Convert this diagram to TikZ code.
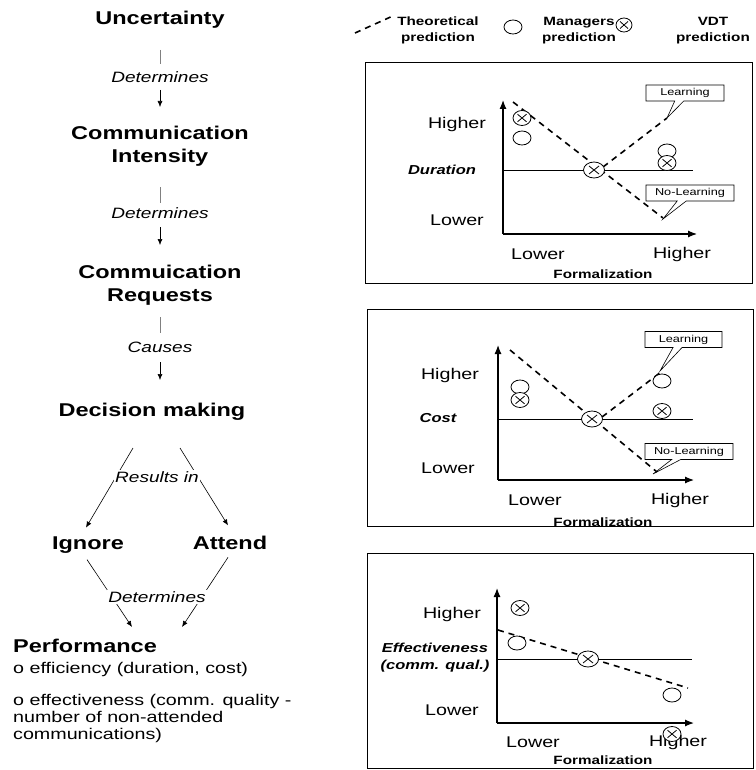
\documentclass[tikz,border=0pt]{standalone}
\usepackage{fontspec}
\setmainfont{Liberation Sans}[FakeStretch=1.27]
\usetikzlibrary{arrows.meta,calc,shapes.callouts}
\begin{document}
\begin{tikzpicture}[x=1pt,y=-1pt,
  big/.style={font=\fontsize{18.5}{23}\selectfont\bfseries, align=center, inner sep=0pt},
  verb/.style={font=\fontsize{15}{18}\selectfont\itshape, inner sep=1pt, fill=white},
  body/.style={font=\fontsize{15.5}{16.8}\selectfont, align=left, inner sep=0pt},
  link/.style={draw=gray, line width=0.5pt},
  arr/.style={line width=0.6pt, -{Latex[length=6pt,width=5pt]}},
  axl/.style={font=\fontsize{15.5}{18}\selectfont, inner sep=0pt},
  ttl/.style={font=\fontsize{13}{17}\selectfont\bfseries\itshape, align=center, inner sep=0pt},
  fml/.style={font=\fontsize{12}{14}\selectfont\bfseries, inner sep=0pt},
  leg/.style={font=\fontsize{12}{16}\selectfont\bfseries, align=center, inner sep=0pt, anchor=base},
  theo/.style={line width=1.6pt, dash pattern=on 6pt off 5pt},
  axis/.style={line width=1.2pt, -{Latex[length=9pt,width=7pt]}},
  panel/.style={line width=0.9pt},
  call/.style={rectangle callout, draw, fill=white, line width=0.6pt,
    font=\fontsize{10}{12}\selectfont, minimum height=16pt, inner sep=2pt,
    callout pointer width=9pt},
  vdt/.pic={\draw[fill=white, line width=0.8pt] (0,0) ellipse (9 and 7.5);
            \draw[line width=0.8pt] (-4.5,-3.8) -- (4.5,3.8) (-4.5,3.8) -- (4.5,-3.8);},
  vdtsm/.pic={\draw[fill=white, line width=0.8pt] (0,0) ellipse (8 and 7);
            \draw[line width=0.8pt] (-4,-3.5) -- (4,3.5) (-4,3.5) -- (4,-3.5);},
  vdtbig/.pic={\draw[fill=white, line width=0.8pt] (0,0) ellipse (10.5 and 8);
            \draw[line width=0.8pt] (-5,-4) -- (5,4) (-5,4) -- (5,-4);},
  mgr/.pic={\draw[fill=white, line width=0.8pt] (0,0) ellipse (9 and 7);}
]
\useasboundingbox (0,0) rectangle (755,770);

% ---------------- left column ----------------
\node[big] (unc) at (160,20) {Uncertainty};
\node[verb] (d1) at (160,77) {Determines};
\node[big] (ci) at (160,146.5) {Communication\\Intensity};
\node[verb] (d2) at (160,213) {Determines};
\node[big] (cr) at (160,285) {Commuication\\Requests};
\node[verb] (c3) at (160,347) {Causes};
\node[big] (dm) at (152,412) {Decision making};
\node[big, anchor=base] (ig) at (88,549) {Ignore};
\node[big, anchor=base] (at) at (230,549) {Attend};
\node[big, anchor=base west] (pf) at (13,652) {Performance};
\node[body, anchor=base west] (pe) at (13,673) {o efficiency (duration, cost)};
\node[body, anchor=north west] (pq) at (13,694.5) {o effectiveness (comm. quality -\\number of non-attended\\communications)};
\coordinate (pL) at (132,627);
\coordinate (pR) at (182,627);

\draw[link] ($(unc)+(0,30)$) -- ($(d1)+(0,-13)$);
\draw[arr] ($(d1)+(0,13)$) -- ($(ci)+(0,-39.5)$);
\draw[link] ($(ci)+(0,40.5)$) -- ($(d2)+(0,-10)$);
\draw[arr] ($(d2)+(0,14)$) -- ($(cr)+(0,-40)$);
\draw[link] ($(cr)+(0,32)$) -- ($(c3)+(0,-14)$);
\draw[arr] ($(c3)+(0,15)$) -- ($(dm)+(8,-32)$);

\draw[arr] ($(dm)+(-19,36)$) -- ($(ig.center)+(-2,-17)$);
\draw[arr] ($(dm)+(28,36)$) -- ($(at.center)+(-2,-17)$);
\draw[arr] ($(ig.center)+(-1,15)$) -- (pL);
\draw[arr] ($(at.center)+(-2,15)$) -- (pR);
\node[verb] (ri) at (157,477) {Results in};
\node[verb] (d4) at (157,597) {Determines};

% ---------------- legend ----------------
\draw[theo] (355,33) -- (395,15);
\node[leg] (lt) at (438,42) {Theoretical\\prediction};
\pic at (513,27) {mgr};
\node[leg] (lm) at (579,42) {Managers\\prediction};
\pic at (624,25) {vdtsm};
\node[leg] (lv) at (713,42) {VDT\\prediction};

% ---------------- panel 1: duration ----------------
\draw[panel] (365,62) rectangle (752,283);
\draw[axis] (503,234) -- (503,100);
\draw[axis] (503,234) -- (697,234);
\draw[line width=0.9pt] (503,170) -- (693,170);
\node[axl] (h1) at (457,124) {Higher};
\node[ttl] (t1) at (442,170) {Duration};
\node[axl] (l1) at (457,220) {Lower};
\node[axl] (xl1) at (538,254) {Lower};
\node[axl] (xh1) at (682,254) {Higher};
\node[fml] (f1) at (603,274) {Formalization};
\draw[theo] (513,102) -- (663,218);
\draw[theo] (603,167) -- (667,118);
\pic at (522,118) {vdt};
\pic at (522,138) {mgr};
\pic at (667,151) {mgr};
\pic at (667,163) {vdt};
\pic at (594,170) {vdtbig};
\node[call, minimum width=78pt, callout absolute pointer={(667,118)}] (le1) at (685,93) {Learning};
\node[call, minimum width=88pt, callout absolute pointer={(663,219)}] (nl1) at (690,193) {No-Learning};

% ---------------- panel 2: cost ----------------
\draw[panel] (367,309) rectangle (753,526);
\draw[axis] (498,480) -- (498,345);
\draw[axis] (498,480) -- (694,480);
\draw[line width=0.9pt] (498,419) -- (693,419);
\node[axl] (h2) at (450,375) {Higher};
\node[ttl] (t2) at (438,418) {Cost};
\node[axl] (l2) at (448,468) {Lower};
\node[axl] (xl2) at (535,500) {Lower};
\node[axl] (xh2) at (680,500) {Higher};
\node[fml] (f2) at (603,522) {Formalization};
\draw[theo] (510,350) -- (657,472);
\draw[theo] (602,417) -- (661,372);
\pic at (520,387) {mgr};
\pic at (520,400) {vdt};
\pic at (662,381) {mgr};
\pic at (662,411) {vdt};
\pic at (592,419) {vdtbig};
\node[call, minimum width=77pt, callout absolute pointer={(660,371)}] (le2) at (683.5,339.5) {Learning};
\node[call, minimum width=88pt, callout absolute pointer={(653,474)}] (nl2) at (689,451.5) {No-Learning};

% ---------------- panel 3: effectiveness ----------------
\draw[panel] (367,553) rectangle (753,768);
\draw[axis] (497,723) -- (497,588);
\draw[axis] (497,723) -- (694,723);
\draw[line width=0.9pt] (497,659) -- (692,659);
\node[axl] (h3) at (452,614) {Higher};
\node[ttl] (t3) at (435,658) {Effectiveness\\(comm. qual.)};
\node[axl] (l3) at (452,710) {Lower};
\node[axl] (xl3) at (533,742) {Lower};
\node[axl] (xh3) at (678,742) {Higher};
\node[fml] (f3) at (603,760) {Formalization};
\draw[theo] (498,630) -- (688,688);
\pic at (520,608) {vdt};
\pic at (517,643) {mgr};
\pic at (588,659) {vdtbig};
\pic at (672,695) {mgr};
\pic at (672,734) {vdt};
\end{tikzpicture}
\end{document}
